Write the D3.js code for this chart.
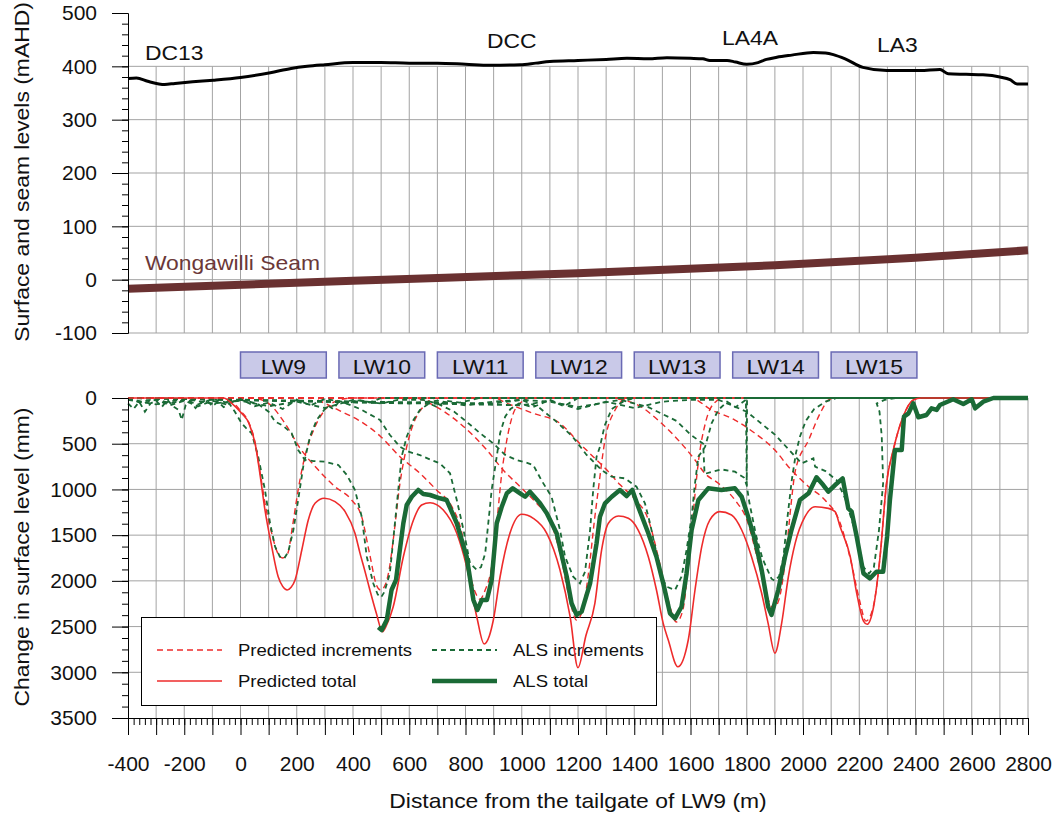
<!DOCTYPE html>
<html>
<head>
<meta charset="utf-8">
<script src="https://d3js.org/d3.v7.min.js"></script>
<style>
  body { margin: 0; background: #fff; }
  svg { display: block; font-family: "Liberation Sans", Arial, sans-serif; }
</style>
</head>
<body>
<div id="chart"></div>
<script>
// ---- data (distance m, value) ----
var surface = [[-400,377],[-370,378],[-330,372],[-290,367],[-270,366],[-233,368],[-170,371],[-96,374],[0,379],[106,388],[180,396],[237,400],[300,403],[400,407],[500,407],[600,406],[700,406],[800,404],[887,402],[994,403],[1050,406],[1100,409],[1200,411],[1300,413],[1374,415],[1450,414],[1516,416],[1600,415],[1644,414],[1669,411],[1730,411],[1760,408],[1800,404],[1840,407],[1870,413],[1907,417],[1960,421],[2037,426],[2080,425],[2108,422],[2150,414],[2213,398],[2298,392],[2416,392],[2487,394],[2516,386],[2580,385],[2640,384],[2700,380],[2736,375],[2761,367],[2800,367]];
var seam = [[-400,-17],[400,-2],[1200,12],[1900,27],[2400,41],[2800,55]];

var sites = ["DC13", "DCC", "LA4A", "LA3"];
var siteX = [-340, 876, 1712, 2263];
var siteY = [412, 435, 440, 427];

var panels = ["LW9", "LW10", "LW11", "LW12", "LW13", "LW14", "LW15"];
var panelStart = [0, 350, 700, 1050, 1400, 1750, 2100];
var panelWidth = 305;

var predTotal = [[-400,0],[-60,0],[-31,58],[4,168],[30,277],[52,500],[69,828],[87,1225],[111,1626],[134,1955],[150,2060],[166,2100],[180,2070],[194,1990],[218,1662],[241,1334],[265,1152],[298,1097],[336,1134],[372,1243],[407,1480],[425,1699],[443,1900],[460,2100],[483,2355],[505,2556],[520,2480],[543,2283],[579,1736],[615,1334],[644,1170],[674,1145],[721,1225],[769,1480],[804,1845],[840,2392],[866,2690],[885,2600],[899,2428],[923,1955],[958,1480],[1000,1272],[1041,1316],[1089,1480],[1136,1881],[1172,2392],[1200,2950],[1228,2600],[1260,2245],[1284,1662],[1308,1370],[1344,1290],[1379,1316],[1414,1444],[1450,1736],[1479,2100],[1503,2465],[1521,2647],[1555,2940],[1592,2647],[1616,2100],[1640,1626],[1669,1334],[1704,1243],[1746,1280],[1782,1444],[1817,1736],[1853,2136],[1876,2465],[1900,2790],[1924,2465],[1948,1955],[1972,1590],[2007,1298],[2043,1189],[2090,1207],[2114,1243],[2132,1408],[2168,1736],[2191,2136],[2215,2440],[2228,2475],[2251,2283],[2274,1736],[2297,933],[2321,569],[2356,204],[2392,22],[2420,0],[2800,0]];

var predLW9 = [[-400,0],[-80,0],[-40,20],[0,140],[30,270],[52,490],[70,820],[90,1200],[111,1480],[130,1680],[150,1750],[168,1700],[185,1400],[205,1006],[220,760],[235,569],[265,314],[300,131],[350,22],[400,0],[2800,0]];
var predLW10 = [[-400,0],[40,0],[99,58],[158,277],[212,550],[277,788],[336,970],[395,1116],[431,1300],[460,1720],[484,2050],[498,2100],[515,2040],[530,1850],[543,1553],[567,933],[591,533],[620,241],[650,95],[686,5],[720,0],[2800,0]];
var predLW11 = [[-400,0],[250,0],[300,58],[360,150],[419,241],[498,420],[567,642],[638,824],[697,1006],[750,1180],[785,1450],[810,1850],[834,2120],[852,2200],[870,2100],[893,1845],[911,1370],[929,824],[947,459],[970,168],[994,58],[1030,0],[2800,0]];
var predLW12 = [[-400,0],[620,0],[680,70],[780,277],[876,569],[934,788],[994,970],[1053,1152],[1100,1334],[1140,1750],[1170,2200],[1195,2430],[1215,2330],[1240,1850],[1258,1350],[1272,1006],[1296,459],[1332,131],[1370,10],[1400,0],[2800,0]];
var predLW13 = [[-400,0],[900,0],[947,58],[1041,168],[1136,277],[1207,500],[1254,642],[1300,780],[1350,950],[1400,1100],[1450,1330],[1490,1800],[1520,2200],[1550,2450],[1572,2330],[1592,1850],[1610,1250],[1628,700],[1655,250],[1690,40],[1720,0],[2800,0]];
var predLW14 = [[-400,0],[1300,0],[1400,58],[1497,277],[1568,500],[1616,678],[1651,824],[1699,933],[1758,1116],[1800,1330],[1840,1780],[1870,2150],[1895,2300],[1915,2200],[1940,1700],[1958,1150],[1972,806],[2020,459],[2067,131],[2090,22],[2120,0],[2800,0]];
var predLW15 = [[-400,0],[1600,0],[1675,131],[1758,241],[1829,386],[1900,569],[1948,751],[2020,970],[2078,1116],[2130,1350],[2170,1780],[2200,2200],[2224,2440],[2250,2280],[2274,1736],[2297,933],[2321,569],[2356,204],[2392,22],[2420,0],[2800,0]];

var alsLW9 = [[-400,60],[-380,120],[-360,40],[-340,150],[-320,60],[-300,30],[-280,100],[-260,20],[-240,90],[-220,130],[-209,240],[-195,80],[-180,30],[-160,110],[-140,50],[-120,20],[-100,90],[-80,40],[-60,100],[-40,60],[-20,150],[4,277],[20,330],[40,386],[63,642],[87,1006],[105,1370],[123,1626],[140,1736],[156,1753],[170,1680],[188,1444],[205,1116],[223,751],[247,423],[271,241],[288,168],[310,80],[330,120],[350,40],[380,60],[420,20],[460,50],[500,0],[2800,0]];
var alsLW10 = [[-400,0],[-350,40],[-300,10],[-250,60],[-200,20],[-150,70],[-100,10],[-50,50],[0,20],[60,60],[100,150],[123,259],[150,300],[182,386],[205,569],[229,678],[260,690],[300,697],[348,733],[378,842],[407,1006],[431,1298],[449,1736],[472,2027],[488,2150],[500,2180],[512,2120],[531,1918],[543,1553],[561,1006],[573,642],[591,423],[615,241],[638,131],[670,60],[700,100],[730,30],[780,50],[850,0],[2800,0]];
var alsLW11 = [[-400,0],[-350,60],[-300,20],[-250,80],[-200,30],[-150,90],[-100,30],[-50,70],[0,10],[50,90],[100,50],[150,120],[200,20],[250,80],[300,10],[360,40],[425,120],[496,241],[530,400],[567,533],[600,590],[638,624],[680,680],[709,715],[745,824],[769,1116],[793,1444],[816,1808],[840,1880],[855,1850],[870,1700],[880,1400],[893,1006],[911,642],[923,386],[941,204],[960,120],[990,60],[1040,100],[1100,20],[1150,90],[1200,0],[2800,0]];
var alsLW12 = [[-400,20],[-300,70],[-200,10],[-100,60],[0,30],[100,90],[200,40],[300,110],[400,20],[500,60],[560,20],[650,20],[700,60],[760,150],[800,250],[850,380],[900,500],[940,620],[981,678],[1010,700],[1041,733],[1070,900],[1106,1080],[1136,1444],[1154,1736],[1183,1955],[1207,2027],[1225,1900],[1243,1444],[1254,1006],[1266,642],[1278,533],[1295,300],[1320,120],[1360,40],[1400,0],[2800,0]];
var alsLW13 = [[-400,0],[600,60],[700,30],[800,80],[900,40],[1000,20],[1060,100],[1120,250],[1180,420],[1230,620],[1284,788],[1320,861],[1367,879],[1408,970],[1438,1152],[1456,1370],[1474,1626],[1497,1955],[1515,2064],[1545,2100],[1568,1955],[1586,1662],[1604,1298],[1616,933],[1628,642],[1652,533],[1675,277],[1699,131],[1730,40],[1760,100],[1797,20],[1800,955],[1801,0],[2800,0]];
var alsLW14 = [[-400,0],[900,60],[1000,20],[1100,40],[1200,100],[1350,20],[1450,100],[1550,250],[1600,400],[1645,500],[1650,830],[1710,781],[1758,806],[1790,870],[1800,955],[1809,1138],[1833,1502],[1856,1757],[1888,1977],[1900,2000],[1915,1950],[1930,1750],[1945,1300],[1960,900],[1975,600],[1989,423],[2010,250],[2040,120],[2080,40],[2120,0],[2800,0]];
var alsLW15 = [[-400,0],[1000,80],[1100,30],[1200,120],[1300,40],[1400,110],[1500,40],[1600,20],[1700,20],[1800,150],[1900,400],[1995,715],[2037,660],[2043,751],[2080,800],[2120,900],[2150,1100],[2180,1400],[2200,1650],[2215,1850],[2235,1920],[2252,1850],[2270,1450],[2285,930],[2280,420],[2272,150],[2262,60],[2290,20],[2330,0],[2800,0]];

var alsTotal = [[490,2508],[502,2538],[520,2428],[537,2100],[553,1990],[565,1699],[579,1370],[591,1170],[609,1080],[632,1006],[650,1050],[674,1061],[709,1097],[733,1116],[769,1370],[804,1736],[828,2209],[842,2319],[858,2209],[876,2209],[893,1990],[911,1370],[929,1189],[947,1042],[968,988],[994,1042],[1012,1080],[1029,1025],[1065,1152],[1089,1261],[1124,1480],[1160,1955],[1177,2245],[1195,2373],[1213,2337],[1243,2027],[1266,1590],[1278,1298],[1296,1152],[1320,1080],[1349,1006],[1373,1072],[1393,1006],[1414,1189],[1450,1480],[1479,1736],[1503,2027],[1527,2355],[1545,2410],[1568,2283],[1586,1918],[1604,1444],[1628,1116],[1663,988],[1710,1006],[1758,988],[1782,1080],[1805,1298],[1829,1553],[1853,1881],[1876,2283],[1888,2373],[1912,2100],[1936,1736],[1959,1444],[1989,1116],[2020,1042],[2048,868],[2072,952],[2090,1025],[2114,952],[2141,879],[2161,1207],[2173,1243],[2191,1517],[2215,1918],[2238,1973],[2261,1900],[2285,1900],[2299,1517],[2309,1116],[2327,569],[2351,569],[2359,204],[2375,168],[2392,58],[2410,211],[2439,186],[2457,113],[2475,131],[2487,77],[2534,14],[2570,66],[2600,14],[2612,113],[2641,40],[2677,0],[2800,0]];

var predIncrements = [predLW9, predLW10, predLW11, predLW12, predLW13, predLW14, predLW15];
var alsIncrements = [alsLW9, alsLW10, alsLW11, alsLW12, alsLW13, alsLW14, alsLW15];

// ---- layout ----
var width = 1053, height = 814;
var red = "#ee2b2b", green = "#1a6a36", gridColor = "#a3a3a3";

var x = d3.scaleLinear().domain([-400, 2800]).range([128, 1028]);
var yTop = d3.scaleLinear().domain([-100, 500]).range([333, 13]);
var yBot = d3.scaleLinear().domain([0, 3500]).range([398, 718]);

var svg = d3.select("#chart").append("svg")
    .attr("width", width)
    .attr("height", height);

// grids
var gridX = d3.range(-300, 2801, 100);
svg.append("g").selectAll("line").data(gridX).enter().append("line")
    .attr("x1", d => x(d)).attr("x2", d => x(d))
    .attr("y1", yTop(400)).attr("y2", yTop(-100))
    .attr("stroke", gridColor);
svg.append("g").selectAll("line").data(d3.range(-100, 401, 100)).enter().append("line")
    .attr("x1", x(-400)).attr("x2", x(2800))
    .attr("y1", d => yTop(d)).attr("y2", d => yTop(d))
    .attr("stroke", gridColor);
svg.append("g").selectAll("line").data(gridX).enter().append("line")
    .attr("x1", d => x(d)).attr("x2", d => x(d))
    .attr("y1", yBot(0)).attr("y2", yBot(3500))
    .attr("stroke", gridColor);
svg.append("g").selectAll("line").data(d3.range(500, 3001, 500)).enter().append("line")
    .attr("x1", x(-400)).attr("x2", x(2800))
    .attr("y1", d => yBot(d)).attr("y2", d => yBot(d))
    .attr("stroke", gridColor);

// legend (drawn under the curves, as in the original)
var legend = svg.append("g");
legend.append("rect")
    .attr("x", 141.5).attr("y", 617.5).attr("width", 515).attr("height", 88)
    .attr("fill", "#fff").attr("stroke", "#000");
var legendItems = [
    {label: "Predicted increments", color: red, w: 1.4, dash: "6,4", lx: 157, ly: 650},
    {label: "Predicted total", color: red, w: 1.6, dash: null, lx: 157, ly: 681},
    {label: "ALS increments", color: green, w: 1.8, dash: "5,4", lx: 432, ly: 650},
    {label: "ALS total", color: green, w: 4.5, dash: null, lx: 432, ly: 681}
];
legendItems.forEach(function(it) {
    legend.append("line")
        .attr("x1", it.lx).attr("x2", it.lx + 65)
        .attr("y1", it.ly).attr("y2", it.ly)
        .attr("stroke", it.color).attr("stroke-width", it.w)
        .attr("stroke-dasharray", it.dash);
    legend.append("text").attr("class", "wide")
        .attr("x", it.lx + 81).attr("y", it.ly + 6)
        .attr("font-size", 17).attr("fill", "#111")
        .text(it.label);
});

// top panel lines
var lineTop = d3.line().x(d => x(d[0])).y(d => yTop(d[1])).curve(d3.curveMonotoneX);
svg.append("path").datum(seam)
    .attr("d", lineTop).attr("fill", "none")
    .attr("stroke", "#6a3131").attr("stroke-width", 8);
svg.append("path").datum(surface)
    .attr("d", lineTop).attr("fill", "none")
    .attr("stroke", "#000").attr("stroke-width", 3);

svg.append("g").selectAll("text").data(sites).enter().append("text")
    .attr("class", "wide")
    .attr("x", (d, i) => x(siteX[i])).attr("y", (d, i) => yTop(siteY[i]))
    .attr("font-size", 21).attr("fill", "#111")
    .text(d => d);
svg.append("text").attr("class", "wide")
    .attr("x", x(-340)).attr("y", yTop(18))
    .attr("font-size", 21).attr("fill", "#6b3838")
    .text("Wongawilli Seam");

// longwall boxes
var boxes = svg.append("g");
panels.forEach(function(p, i) {
    boxes.append("rect")
        .attr("x", x(panelStart[i])).attr("y", 352)
        .attr("width", x(panelStart[i] + panelWidth) - x(panelStart[i])).attr("height", 26)
        .attr("fill", "#c9c9e8").attr("stroke", "#6a6ab4").attr("stroke-width", 1.5);
    boxes.append("text").attr("class", "wide")
        .attr("x", x(panelStart[i] + panelWidth / 2)).attr("y", 374)
        .attr("text-anchor", "middle").attr("font-size", 21).attr("fill", "#111")
        .text(p);
});

// bottom panel curves
var lineSmooth = d3.line().x(d => x(d[0])).y(d => yBot(d[1])).curve(d3.curveMonotoneX);
var lineRough = d3.line().x(d => x(d[0])).y(d => yBot(d[1]));

svg.append("g").selectAll("path").data(predIncrements).enter().append("path")
    .attr("d", lineSmooth).attr("fill", "none")
    .attr("stroke", red).attr("stroke-width", 1.4).attr("stroke-dasharray", "6,4");
svg.append("g").selectAll("path").data(alsIncrements).enter().append("path")
    .attr("d", lineRough).attr("fill", "none")
    .attr("stroke", green).attr("stroke-width", 1.8).attr("stroke-dasharray", "5,4");
svg.append("path").datum(predTotal)
    .attr("d", lineSmooth).attr("fill", "none")
    .attr("stroke", red).attr("stroke-width", 1.6);
svg.append("path").datum(alsTotal)
    .attr("d", lineRough).attr("fill", "none")
    .attr("stroke", green).attr("stroke-width", 4.5).attr("stroke-linejoin", "round");

// axes
function styleAxis(g) {
    g.attr("font-family", null).attr("font-size", 21);
    g.selectAll("text").attr("fill", "#111");
    g.select(".domain").attr("stroke", "#000");
}
svg.append("g").attr("transform", "translate(128,0)")
    .call(d3.axisLeft(yTop).tickValues(d3.range(-100, 501, 20)).tickSize(6).tickSizeOuter(0).tickFormat(""));
svg.append("g").attr("transform", "translate(128,0)")
    .call(d3.axisLeft(yTop).tickValues(d3.range(-100, 501, 100)).tickSize(16).tickSizeOuter(0).tickPadding(15)
        .tickFormat(d => String(d)))
    .call(styleAxis);

svg.append("g").attr("transform", "translate(128,0)")
    .call(d3.axisLeft(yBot).tickValues(d3.range(0, 3501, 125)).tickSize(6).tickSizeOuter(0).tickFormat(""));
svg.append("g").attr("transform", "translate(128,0)")
    .call(d3.axisLeft(yBot).tickValues(d3.range(0, 3501, 500)).tickSize(16).tickSizeOuter(0).tickPadding(15)
        .tickFormat(d => String(d)))
    .call(styleAxis);

svg.append("g").attr("transform", "translate(0,718)")
    .call(d3.axisBottom(x).tickValues(d3.range(-400, 2801, 20)).tickSize(7).tickSizeOuter(0).tickFormat(""));
svg.append("g").attr("transform", "translate(0,718)")
    .call(d3.axisBottom(x).tickValues(d3.range(-400, 2801, 100)).tickSize(17).tickSizeOuter(0).tickPadding(21)
        .tickFormat(d => d % 200 === 0 ? String(d) : ""))
    .call(styleAxis);

// titles
svg.append("text").attr("class", "wide")
    .attr("transform", "translate(29,172) rotate(-90)")
    .attr("text-anchor", "middle").attr("font-size", 21).attr("fill", "#111")
    .text("Surface and seam levels (mAHD)");
svg.append("text").attr("class", "wide")
    .attr("transform", "translate(29,557) rotate(-90)")
    .attr("text-anchor", "middle").attr("font-size", 21).attr("fill", "#111")
    .text("Change in surface level (mm)");
svg.append("text").attr("class", "wide")
    .attr("x", 578).attr("y", 808)
    .attr("text-anchor", "middle").attr("font-size", 21).attr("fill", "#111")
    .text("Distance from the tailgate of LW9 (m)");

// the original lettering is a little wider than Liberation Sans
svg.selectAll("text.wide").each(function() {
    var w = this.getComputedTextLength();
    d3.select(this).attr("textLength", w * 1.09).attr("lengthAdjust", "spacingAndGlyphs");
});
</script>
</body>
</html>
